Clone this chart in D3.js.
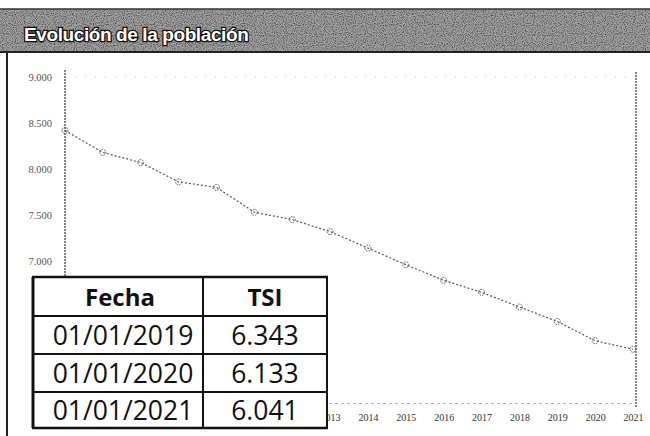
<!DOCTYPE html>
<html><head><meta charset="utf-8">
<script src="https://cdn.jsdelivr.net/npm/d3@7/dist/d3.min.js"></script>
<style>body{margin:0;background:#fff}svg{display:block}</style>
</head><body>
<script>
const title = "Evolución de la población";
const years = [2006,2007,2008,2009,2010,2011,2012,2013,2014,2015,2016,2017,2018,2019,2020,2021];
const population = [8420,8180,8070,7860,7800,7530,7450,7320,7140,6960,6790,6660,6500,6343,6133,6041];
const yTicks = [7000,7500,8000,8500,9000];
const xTickYears = [2013,2014,2015,2016,2017,2018,2019,2020,2021];
const tableHeader = ["Fecha","TSI"];
const tableDates = ["01/01/2019","01/01/2020","01/01/2021"];
const tableValues = [6343,6133,6041];

const W=650,H=436;
const loc = d3.formatLocale({decimal:",",thousands:".",grouping:[3],currency:["","€"]});
const fmt = loc.format(",d");

const svg = d3.select("body").append("svg").attr("width",W).attr("height",H);
const defs = svg.append("defs");
const f = defs.append("filter").attr("id","noise").attr("x",0).attr("y",0).attr("width","100%").attr("height","100%");
f.append("feTurbulence").attr("type","fractalNoise").attr("baseFrequency",0.9).attr("numOctaves",1).attr("seed",3).attr("result","n");
f.append("feColorMatrix").attr("in","n").attr("type","matrix")
 .attr("values","0 0 0 0 0  0 0 0 0 0  0 0 0 0 0  0 0 0 -1.6 0.9").attr("result","a");
f.append("feComposite").attr("in","a").attr("in2","SourceGraphic").attr("operator","in");

svg.append("rect").attr("width",W).attr("height",H).attr("fill","#fff");
// title bar
svg.append("rect").attr("x",0).attr("y",9).attr("width",W).attr("height",43).attr("fill","#a0a0a0");
svg.append("rect").attr("x",0).attr("y",9).attr("width",W).attr("height",43).attr("fill","#000").attr("filter","url(#noise)");
svg.append("line").attr("x1",0).attr("x2",W).attr("y1",52).attr("y2",52).attr("stroke","#222").attr("stroke-width",2);
svg.append("line").attr("x1",0).attr("x2",W).attr("y1",9).attr("y2",9).attr("stroke","#333").attr("stroke-width",1.5);
svg.append("text").attr("x",24).attr("y",41).text(title)
 .attr("font-family","Liberation Sans, Arial, sans-serif").attr("font-weight","bold").attr("font-size",19)
 .attr("fill","#fff").attr("stroke","#111").attr("stroke-width",2.6).attr("paint-order","stroke")
 .attr("letter-spacing","-0.4");

// left frame
svg.append("line").attr("x1",7).attr("x2",7).attr("y1",52).attr("y2",H).attr("stroke","#222").attr("stroke-width",2);

const x = d3.scalePoint().domain(years).range([65,633]);
const y = d3.scaleLinear().domain([5500,9000]).range([399,77]);

// top faint gridline
svg.append("line").attr("x1",65).attr("x2",636).attr("y1",y(9000)).attr("y2",y(9000))
 .attr("stroke","#bbb").attr("stroke-width",1).attr("stroke-dasharray","1,9");
// y axis
const ya = svg.append("g").attr("transform","translate(52,0)")
 .call(d3.axisLeft(y).tickValues(yTicks).tickFormat(fmt).tickSize(0).tickPadding(0));
ya.select(".domain").remove();
ya.selectAll("text").attr("font-family","Liberation Serif, serif").attr("font-size",10.5).attr("fill","#555");
svg.append("line").attr("x1",65).attr("x2",65).attr("y1",70).attr("y2",403)
 .attr("stroke","#444").attr("stroke-width",1.3).attr("stroke-dasharray","2,1");
svg.append("line").attr("x1",636).attr("x2",636).attr("y1",72).attr("y2",408)
 .attr("stroke","#444").attr("stroke-width",1.3).attr("stroke-dasharray","2,1");
// x axis
const xa = svg.append("g").attr("transform","translate(0,403)")
 .call(d3.axisBottom(x).tickValues(xTickYears).tickSize(0).tickPadding(11));
xa.select(".domain").attr("stroke","#999").attr("stroke-dasharray","2,4");
xa.selectAll("text").attr("font-family","Liberation Serif, serif").attr("font-size",10).attr("fill","#333");

// line
const line = d3.line().x((d,i)=>x(years[i])).y(d=>y(d));
svg.append("path").datum(population).attr("d",line).attr("fill","none")
 .attr("stroke","#555").attr("stroke-width",1.2).attr("stroke-dasharray","2,2");
svg.selectAll("circle.m").data(population).join("circle").attr("class","m")
 .attr("cx",(d,i)=>x(years[i])).attr("cy",d=>y(d)).attr("r",3)
 .attr("fill","none").attr("stroke","#555").attr("stroke-width",1).attr("stroke-dasharray","1.5,1");

// table
const tx=[33,203,327], ty=[277,316,354,392,428];
const tg = svg.append("g");
tg.append("rect").attr("x",tx[0]).attr("y",ty[0]).attr("width",tx[2]-tx[0]).attr("height",ty[4]-ty[0]).attr("fill","#fff");
ty.forEach((yy,i)=>tg.append("line").attr("x1",tx[0]-1).attr("x2",tx[2]+1).attr("y1",yy).attr("y2",yy).attr("stroke","#111").attr("stroke-width",i==0||i==4?2.5:2));
tx.forEach((xx,i)=>tg.append("line").attr("x1",xx).attr("x2",xx).attr("y1",ty[0]).attr("y2",ty[4]).attr("stroke","#111").attr("stroke-width",i==0?3:2));
const cx=[(tx[0]+tx[1])/2+2,(tx[1]+tx[2])/2];
tableHeader.forEach((h,i)=>tg.append("text").attr("x",cx[i]).attr("y",(ty[0]+ty[1])/2+9).text(h)
 .attr("text-anchor","middle").attr("font-family","Open Sans, sans-serif").attr("font-weight","bold").attr("font-size",24).attr("fill","#111"));
tableDates.forEach((d,r)=>{
  const yy=(ty[r+1]+ty[r+2])/2+9.5;
  tg.append("text").attr("x",cx[0]+3).attr("y",yy).text(d).attr("text-anchor","middle")
   .attr("font-family","Open Sans, sans-serif").attr("font-weight",500).attr("font-size",26.5).attr("fill","#111");
  tg.append("text").attr("x",cx[1]).attr("y",yy).text(fmt(tableValues[r])).attr("text-anchor","middle")
   .attr("font-family","Open Sans, sans-serif").attr("font-weight",500).attr("font-size",26.5).attr("fill","#111");
});
</script>
</body></html>
